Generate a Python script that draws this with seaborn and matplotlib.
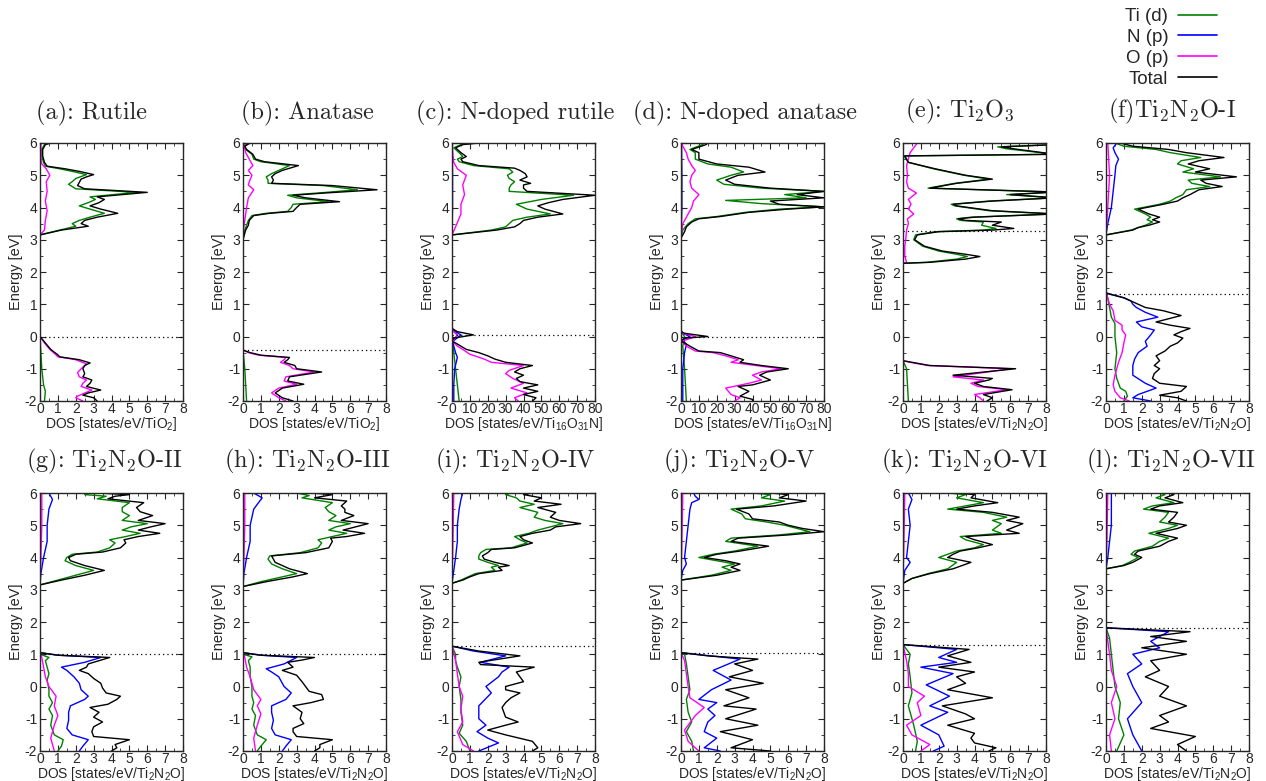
import matplotlib
matplotlib.use("Agg")
import pandas as pd
import matplotlib.pyplot as plt
import seaborn as sns
from matplotlib.lines import Line2D
from matplotlib.ticker import MultipleLocator

# ---- data: (energy [eV], DOS) pairs ----
# (a) Rutile
A_TI = [(-2, 0.25), (-1.7, 0.3), (-1.5, 0.2), (-1.0, 0.1), (-0.5, 0.05), (0, 0), (3.15, 0), (3.3, 1.1), (3.42, 2.0),
        (3.5, 1.8), (3.6, 2.2), (3.7, 2.8), (3.82, 3.6), (3.95, 2.8), (4.05, 2.2), (4.15, 2.7), (4.25, 3.1), (4.33, 2.8),
        (4.47, 5.4), (4.58, 2.0), (4.72, 1.6), (4.8, 1.8), (4.9, 2.0), (5.02, 2.6), (5.12, 1.8), (5.2, 1.1), (5.28, 0.3),
        (5.4, 0.2), (5.6, 0.1), (5.8, 0.1), (5.95, 0.25), (6, 0.5)]
A_O = [(-2, 2.4), (-1.9, 2.0), (-1.85, 2.1), (-1.66, 2.9), (-1.55, 2.3), (-1.45, 2.4), (-1.35, 2.6), (-1.25, 2.2),
       (-1.12, 2.1), (-1.0, 2.3), (-0.85, 2.6), (-0.72, 2.0), (-0.68, 1.6), (-0.63, 1.0), (-0.57, 0.9), (-0.4, 0.55),
       (-0.2, 0.25), (0, 0), (3.15, 0), (3.3, 0.25), (3.6, 0.3), (3.9, 0.4), (4.2, 0.3), (4.5, 0.4), (4.8, 0.35),
       (5.0, 0.55), (5.2, 0.35), (5.35, 0.1), (5.5, 0.05), (6, 0.05)]
A_TOT = [(-2, 3.2), (-1.9, 3.0), (-1.82, 2.4), (-1.75, 2.7), (-1.66, 3.4), (-1.55, 2.6), (-1.45, 2.8), (-1.35, 2.9),
         (-1.25, 2.4), (-1.15, 2.5), (-1.0, 2.4), (-0.9, 2.5), (-0.82, 2.8), (-0.72, 2.2), (-0.68, 1.7), (-0.63, 1.1),
         (-0.57, 1.0), (-0.4, 0.6), (-0.2, 0.3), (0, 0), (3.15, 0), (3.3, 1.2), (3.42, 2.7), (3.5, 2.3), (3.6, 2.5),
         (3.7, 3.2), (3.82, 4.35), (3.95, 3.4), (4.05, 2.8), (4.15, 3.3), (4.25, 3.6), (4.33, 3.2), (4.47, 6.0),
         (4.58, 2.5), (4.68, 2.1), (4.78, 2.2), (4.88, 2.3), (4.95, 2.6), (5.02, 3.0), (5.12, 2.2), (5.2, 1.4),
         (5.28, 0.4), (5.4, 0.25), (5.6, 0.15), (5.8, 0.15), (5.95, 0.3), (6, 0.6)]

# (b) Anatase
B_TI = [(-2, 0.2), (-1.5, 0.15), (-1.0, 0.1), (-0.42, 0), (3.0, 0), (3.3, 0.1), (3.6, 0.3), (3.75, 0.5), (3.82, 1.3),
        (3.88, 2.5), (4.0, 2.7), (4.1, 2.8), (4.18, 4.8), (4.3, 3.0), (4.38, 2.5), (4.45, 4.2), (4.55, 6.4), (4.68, 4.5),
        (4.75, 1.4), (4.85, 1.4), (4.95, 1.3), (5.05, 1.6), (5.15, 2.0), (5.3, 2.6), (5.42, 1.0), (5.5, 0.6),
        (5.65, 0.5), (5.8, 0.15), (5.9, 0.05), (6, 0.3)]
B_O = [(-2, 2.4), (-1.9, 2.0), (-1.75, 1.6), (-1.6, 2.0), (-1.48, 3.0), (-1.38, 2.3), (-1.25, 2.4), (-1.1, 4.0),
       (-1.0, 2.8), (-0.9, 2.6), (-0.8, 2.1), (-0.72, 2.3), (-0.65, 2.4), (-0.58, 0.9), (-0.5, 0.3), (-0.42, 0),
       (3.1, 0), (3.4, 0.05), (3.6, 0.1), (3.8, 0.15), (4.0, 0.2), (4.3, 0.3), (4.55, 0.6), (4.7, 0.3), (4.8, 0.35),
       (5.0, 0.5), (5.15, 0.3), (5.3, 0.55), (5.5, 0.35), (5.7, 0.15), (5.85, 0.1), (6, 0.05)]
B_TOT = [(-2, 2.8), (-1.9, 2.2), (-1.75, 1.8), (-1.6, 2.2), (-1.48, 3.4), (-1.38, 2.5), (-1.25, 2.6), (-1.1, 4.4),
         (-1.0, 3.0), (-0.9, 2.9), (-0.8, 2.3), (-0.72, 2.5), (-0.65, 2.6), (-0.58, 1.0), (-0.5, 0.4), (-0.42, 0),
         (3.0, 0), (3.3, 0.15), (3.45, 0.3), (3.6, 0.35), (3.75, 0.6), (3.82, 1.5), (3.88, 2.8), (4.0, 3.0), (4.1, 3.2),
         (4.18, 5.4), (4.3, 3.5), (4.38, 2.8), (4.45, 4.6), (4.55, 7.5), (4.68, 5.0), (4.75, 1.6), (4.85, 1.7),
         (4.95, 1.6), (5.05, 1.8), (5.15, 2.2), (5.3, 3.1), (5.42, 1.2), (5.5, 0.7), (5.65, 0.55), (5.8, 0.2),
         (5.9, 0.1), (6, 0.4)]

# (c) N-doped rutile
C_TI = [(-2, 4), (-1.5, 3), (-1.0, 2), (-0.5, 1), (-0.15, 0.5), (0.05, 3), (0.2, 0), (3.15, 0), (3.3, 22), (3.4, 30),
        (3.5, 32), (3.6, 34), (3.7, 42), (3.8, 55), (3.95, 42), (4.1, 36), (4.25, 50), (4.38, 68), (4.5, 32), (4.6, 32),
        (4.7, 33), (4.8, 35), (4.9, 32), (5.0, 31), (5.1, 34), (5.2, 32), (5.3, 12), (5.42, 4), (5.5, 3), (5.58, 6),
        (5.7, 4), (5.85, 1), (5.95, 5), (6, 12)]
C_N = [(-2, 1), (-1.5, 1), (-1.0, 1.5), (-0.65, 3), (-0.5, 2), (-0.3, 1), (-0.15, 0.5), (0.05, 5), (0.2, 0.5), (0.3, 0),
       (3.15, 0), (4, 0.3), (5, 0.3), (6, 0.2)]
C_O = [(-2, 37), (-1.9, 35), (-1.75, 42), (-1.6, 33), (-1.45, 40), (-1.3, 34), (-1.15, 30), (-1.05, 32), (-0.9, 40),
       (-0.8, 22), (-0.7, 18), (-0.55, 10), (-0.4, 6), (-0.3, 3), (-0.15, 0.5), (0.05, 3), (0.2, 0), (3.15, 0),
       (3.4, 2), (3.8, 5), (4.1, 5), (4.4, 7), (4.7, 6), (5.0, 8), (5.2, 3), (5.4, 1), (5.6, 0.5), (6, 0)]
C_TOT = [(-2, 45), (-1.9, 47), (-1.8, 40), (-1.7, 48), (-1.6, 40), (-1.5, 48), (-1.4, 38), (-1.3, 36), (-1.2, 40),
         (-1.1, 35), (-1.0, 38), (-0.9, 45), (-0.8, 30), (-0.7, 24), (-0.6, 20), (-0.5, 15), (-0.4, 8), (-0.3, 5),
         (-0.2, 2), (-0.15, 0), (-0.05, 1), (0.05, 12), (0.15, 3), (0.25, 0), (3.15, 0), (3.3, 25), (3.4, 35),
         (3.5, 38), (3.6, 40), (3.7, 48), (3.8, 62), (3.95, 52), (4.05, 48), (4.15, 54), (4.25, 62), (4.38, 80),
         (4.5, 42), (4.6, 40), (4.7, 40), (4.75, 44), (4.85, 38), (4.95, 42), (5.05, 41), (5.15, 38), (5.22, 35),
         (5.3, 15), (5.42, 6), (5.5, 5), (5.58, 8), (5.7, 5), (5.85, 2), (5.95, 6), (6, 15)]

# (d) N-doped anatase
D_TI = [(-2, 3), (-1.0, 2), (-0.3, 1), (0, 2), (0.15, 0), (3.05, 0), (3.3, 1), (3.5, 4), (3.65, 8), (3.72, 20),
        (3.85, 36), (3.95, 55), (4.02, 80), (4.12, 45), (4.22, 25), (4.3, 70), (4.4, 58), (4.5, 80), (4.6, 45),
        (4.72, 24), (4.85, 20), (5.0, 28), (5.1, 35), (5.25, 28), (5.35, 15), (5.5, 8), (5.7, 8), (5.8, 5), (5.95, 12),
        (6, 13)]
D_N = [(-2, 1), (-1.0, 1), (-0.5, 2), (-0.25, 3), (-0.1, 1), (0.0, 5), (0.1, 1), (0.2, 0), (3.05, 0), (4, 0.5),
       (5, 0.5), (6, 0.3)]
D_O = [(-2, 30), (-1.9, 33), (-1.8, 28), (-1.6, 25), (-1.45, 38), (-1.35, 45), (-1.2, 40), (-1.1, 45), (-1.0, 56),
       (-0.9, 42), (-0.8, 28), (-0.72, 32), (-0.6, 25), (-0.5, 18), (-0.45, 8), (-0.3, 3), (-0.15, 0.5), (0.0, 8),
       (0.1, 1), (0.15, 0), (3.05, 0), (3.5, 1), (3.8, 4), (4.0, 6), (4.2, 7), (4.4, 10), (4.6, 6), (4.8, 5), (5.0, 6),
       (5.15, 8), (5.3, 6), (5.5, 4), (5.7, 3), (5.9, 1), (6, 0.5)]
D_TOT = [(-2, 40), (-1.95, 40), (-1.85, 33), (-1.7, 38), (-1.55, 32), (-1.5, 40), (-1.35, 50), (-1.2, 44), (-1.1, 48),
         (-1.0, 60), (-0.9, 45), (-0.8, 33), (-0.72, 35), (-0.6, 28), (-0.5, 22), (-0.45, 10), (-0.3, 5), (-0.2, 2),
         (-0.15, 0), (-0.05, 2), (0.0, 15), (0.1, 2), (0.15, 0), (3.05, 0), (3.25, 2), (3.4, 3), (3.55, 6), (3.65, 10),
         (3.72, 22), (3.85, 38), (3.95, 60), (4.02, 80), (4.1, 55), (4.2, 50), (4.3, 80), (4.4, 65), (4.5, 80),
         (4.6, 50), (4.72, 30), (4.85, 25), (5.0, 32), (5.1, 47), (5.25, 38), (5.35, 20), (5.5, 10), (5.7, 10),
         (5.8, 6), (5.95, 14), (6, 15)]

# (e) Ti2O3
E_TI = [(-2, 0.3), (-1.5, 0.25), (-1.0, 0.2), (-0.75, 0), (2.27, 0), (2.3, 1.3), (2.4, 3.0), (2.48, 3.6), (2.55, 3.0),
        (2.65, 2.0), (2.8, 1.1), (3.0, 0.6), (3.15, 0.7), (3.25, 1.8), (3.3, 4.5), (3.35, 5.2), (3.45, 4.4),
        (3.55, 4.5), (3.6, 3.2), (3.65, 3.0), (3.7, 3.8), (3.8, 8.5), (3.9, 4.8), (4.05, 2.9), (4.1, 2.7), (4.2, 4.8),
        (4.3, 8.5), (4.4, 5.8), (4.48, 8.5), (4.6, 1.4), (4.75, 2.9), (4.88, 4.8), (5.0, 3.4), (5.2, 1.7), (5.4, 0.3),
        (5.6, 0.05), (5.65, 8.5), (5.82, 5.8), (5.88, 5.3), (5.95, 8.5), (6, 8.5)]
E_O = [(-2, 4.5), (-1.9, 4.3), (-1.8, 4.0), (-1.65, 5.8), (-1.55, 4.2), (-1.45, 3.8), (-1.35, 4.5), (-1.25, 2.8),
       (-1.0, 6.0), (-0.9, 1.4), (-0.8, 0.4), (-0.75, 0), (2.27, 0), (2.3, 0.2), (2.5, 0.1), (2.8, 0.1), (3.0, 0.15),
       (3.3, 0.2), (3.5, 0.3), (3.65, 0.25), (3.8, 0.6), (3.95, 0.3), (4.1, 0.45), (4.25, 0.3), (4.45, 0.75),
       (4.6, 0.3), (4.8, 0.2), (5.0, 0.25), (5.3, 0.2), (5.5, 0.3), (5.7, 0.4), (5.85, 0.6), (6, 0.8)]
E_TOT = [(-2, 4.7), (-1.9, 5.0), (-1.8, 4.5), (-1.65, 6.1), (-1.55, 4.5), (-1.45, 4.0), (-1.35, 4.8), (-1.3, 5.0),
         (-1.2, 2.8), (-1.0, 6.3), (-0.9, 1.5), (-0.8, 0.5), (-0.75, 0), (2.27, 0), (2.3, 1.5), (2.4, 3.5),
         (2.48, 4.3), (2.55, 3.5), (2.65, 2.2), (2.8, 1.2), (3.0, 0.65), (3.15, 0.8), (3.25, 2.0), (3.3, 5.0),
         (3.35, 6.2), (3.45, 5.0), (3.55, 5.5), (3.6, 3.5), (3.65, 3.1), (3.7, 4.0), (3.8, 8.5), (3.9, 5.0),
         (4.05, 3.0), (4.1, 2.8), (4.2, 5.0), (4.3, 8.5), (4.4, 6.0), (4.48, 8.5), (4.6, 1.5), (4.75, 3.0),
         (4.88, 5.0), (5.0, 3.5), (5.2, 1.8), (5.4, 0.3), (5.6, 0.1), (5.65, 8.5), (5.82, 6.2), (5.88, 5.5),
         (5.95, 8.5), (6, 8.5)]

# (f) Ti2N2O-I
F_TI = [(-2, 1.0), (-1.85, 1.2), (-1.7, 1.1), (-1.6, 0.8), (-1.3, 0.6), (-1.0, 0.5), (-0.5, 0.6), (0, 0.5), (0.4, 0.5),
        (0.6, 0.3), (0.9, 0.2), (1.2, 0.1), (1.35, 0), (3.15, 0), (3.3, 1.4), (3.45, 2.2), (3.55, 2.6), (3.62, 2.3),
        (3.7, 2.5), (3.8, 2.2), (3.95, 1.6), (4.1, 3.0), (4.2, 3.6), (4.3, 3.9), (4.4, 4.3), (4.55, 4.5), (4.65, 5.8),
        (4.75, 4.8), (4.85, 4.6), (4.95, 6.4), (5.1, 4.3), (5.2, 4.9), (5.35, 4.0), (5.45, 4.2), (5.55, 5.3),
        (5.7, 3.6), (5.8, 2.8), (5.9, 1.0), (6, 0.5)]
F_N = [(-2, 2.5), (-1.9, 1.5), (-1.8, 1.8), (-1.6, 2.8), (-1.45, 2.2), (-1.2, 1.5), (-0.9, 1.5), (-0.7, 1.6),
       (-0.5, 1.8), (-0.3, 2.3), (-0.15, 2.2), (0.05, 2.5), (0.2, 2.7), (0.3, 2.0), (0.45, 1.7), (0.6, 2.9),
       (0.75, 2.2), (0.9, 1.7), (1.0, 1.5), (1.1, 1.4), (1.2, 1.0), (1.35, 0), (3.15, 0), (3.5, 0.1), (4.0, 0.3),
       (4.5, 0.4), (5.0, 0.5), (5.3, 0.55), (5.5, 0.7), (5.7, 0.5), (5.85, 0.4), (6, 0.6)]
F_O = [(-2, 1.3), (-1.9, 0.8), (-1.7, 0.5), (-1.5, 0.4), (-1.2, 0.5), (-0.8, 0.7), (-0.5, 0.9), (-0.2, 1.0),
       (0.05, 1.1), (0.2, 0.9), (0.35, 0.9), (0.5, 0.5), (0.8, 0.4), (1.0, 0.2), (1.35, 0), (3.15, 0), (4.0, 0.1),
       (5.0, 0.2), (5.5, 0.15), (6, 0.1)]
F_TOT = [(-2, 4.5), (-1.9, 4.0), (-1.82, 3.0), (-1.7, 4.2), (-1.55, 4.5), (-1.45, 3.0), (-1.3, 2.6), (-1.15, 2.7),
         (-1.0, 3.0), (-0.9, 2.7), (-0.75, 3.0), (-0.6, 2.8), (-0.45, 3.3), (-0.3, 3.6), (-0.2, 4.0), (-0.05, 4.3),
         (0.05, 3.8), (0.15, 4.2), (0.25, 4.7), (0.35, 3.6), (0.45, 2.8), (0.55, 3.5), (0.65, 4.2), (0.8, 3.2),
         (0.9, 2.2), (1.0, 1.8), (1.1, 1.4), (1.2, 1.0), (1.3, 0.3), (1.35, 0), (3.15, 0), (3.3, 1.5), (3.38, 1.8),
         (3.45, 2.4), (3.55, 3.0), (3.62, 2.6), (3.7, 3.0), (3.8, 2.4), (3.95, 1.8), (4.1, 3.2), (4.2, 4.0),
         (4.3, 4.3), (4.4, 4.7), (4.55, 5.2), (4.65, 6.5), (4.75, 5.6), (4.85, 5.3), (4.95, 7.3), (5.1, 5.0),
         (5.2, 5.8), (5.35, 4.6), (5.45, 5.2), (5.55, 6.6), (5.7, 4.5), (5.8, 3.5), (5.9, 1.5), (6, 0.8)]

# (g) Ti2N2O-II
G_TI = [(-2, 1.0), (-1.85, 1.2), (-1.65, 1.3), (-1.5, 0.8), (-1.2, 0.6), (-0.9, 0.7), (-0.7, 0.5), (-0.5, 0.7),
        (-0.3, 0.5), (-0.1, 0.5), (0.2, 0.4), (0.4, 0.5), (0.6, 0.4), (0.8, 0.3), (0.9, 0.5), (1.0, 0), (3.15, 0),
        (3.3, 1.0), (3.45, 2.0), (3.6, 3.0), (3.75, 2.0), (3.9, 1.4), (4.0, 1.5), (4.1, 1.8), (4.17, 3.2), (4.3, 3.9),
        (4.45, 4.2), (4.55, 3.9), (4.65, 4.8), (4.75, 5.6), (4.85, 4.6), (4.95, 5.1), (5.05, 6.0), (5.15, 4.6),
        (5.3, 5.0), (5.42, 4.6), (5.55, 4.6), (5.7, 5.0), (5.82, 3.2), (5.9, 3.7), (5.95, 2.5), (6, 2.8)]
G_N = [(-2, 2.2), (-1.85, 2.4), (-1.65, 2.7), (-1.5, 1.8), (-1.3, 1.5), (-1.05, 1.6), (-0.8, 1.6), (-0.6, 1.7),
       (-0.4, 2.5), (-0.3, 2.7), (-0.1, 2.3), (0.1, 2.2), (0.3, 1.9), (0.5, 1.5), (0.6, 1.2), (0.75, 2.5), (0.9, 3.4),
       (0.97, 1.0), (1.05, 0), (3.15, 0), (3.5, 0.05), (4.0, 0.2), (4.5, 0.4), (5.0, 0.4), (5.5, 0.5), (5.8, 0.7),
       (6, 0.5)]
G_O = [(-2, 0.8), (-1.6, 0.6), (-1.2, 0.8), (-0.9, 1.0), (-0.6, 0.8), (-0.3, 0.9), (0, 0.5), (0.3, 0.3), (0.6, 0.2),
       (0.9, 0.1), (1.05, 0), (3.15, 0), (4.0, 0.05), (5.0, 0.1), (6, 0.1)]
G_TOT = [(-2, 4.0), (-1.9, 4.3), (-1.8, 4.2), (-1.65, 5.0), (-1.55, 3.0), (-1.4, 2.9), (-1.25, 3.0), (-1.1, 3.5),
         (-0.95, 3.0), (-0.8, 3.3), (-0.65, 2.8), (-0.55, 3.8), (-0.4, 4.3), (-0.3, 4.5), (-0.2, 3.7), (-0.05, 3.5),
         (0.1, 3.4), (0.25, 3.0), (0.4, 2.7), (0.5, 2.2), (0.6, 2.6), (0.7, 2.7), (0.8, 3.3), (0.9, 3.9), (0.97, 1.0),
         (1.05, 0), (3.15, 0), (3.3, 1.2), (3.45, 2.5), (3.6, 3.6), (3.75, 2.5), (3.9, 1.7), (4.0, 1.6), (4.1, 2.0),
         (4.17, 3.5), (4.3, 4.5), (4.45, 4.8), (4.55, 4.7), (4.65, 5.5), (4.75, 6.7), (4.85, 5.5), (4.95, 6.2),
         (5.05, 7.0), (5.15, 5.5), (5.3, 6.3), (5.42, 5.6), (5.55, 5.4), (5.7, 5.8), (5.82, 3.8), (5.9, 4.2),
         (5.95, 5.0), (6, 3.2)]

# (h) Ti2N2O-III
H_TI = [(-2, 0.8), (-1.85, 1.0), (-1.65, 1.3), (-1.5, 0.8), (-1.2, 0.6), (-0.9, 0.7), (-0.7, 0.5), (-0.5, 0.6),
        (-0.3, 0.5), (0.0, 0.5), (0.3, 0.4), (0.6, 0.4), (0.8, 0.3), (0.92, 0.5), (1.0, 0), (3.1, 0), (3.25, 1.0),
        (3.4, 2.2), (3.5, 3.0), (3.65, 2.2), (3.8, 1.6), (3.95, 1.4), (4.05, 1.5), (4.15, 3.2), (4.3, 4.2),
        (4.45, 4.4), (4.55, 4.2), (4.65, 5.0), (4.75, 5.8), (4.85, 4.8), (4.95, 5.2), (5.05, 6.0), (5.15, 4.8),
        (5.3, 5.2), (5.42, 4.8), (5.55, 4.6), (5.7, 5.0), (5.85, 3.3), (5.92, 3.7), (6, 3.0)]
H_N = [(-2, 2.2), (-1.85, 2.4), (-1.65, 2.7), (-1.5, 1.8), (-1.3, 1.6), (-1.05, 1.7), (-0.8, 1.6), (-0.6, 1.6),
       (-0.4, 2.4), (-0.2, 2.7), (0.0, 2.3), (0.3, 2.0), (0.45, 1.6), (0.55, 1.3), (0.7, 2.3), (0.9, 3.0), (0.97, 1.0),
       (1.05, 0), (3.1, 0), (3.5, 0.05), (4.0, 0.2), (4.5, 0.4), (5.0, 0.4), (5.5, 0.6), (5.85, 1.07), (6, 0.6)]
H_O = [(-2, 0.7), (-1.6, 0.6), (-1.2, 0.8), (-0.85, 1.0), (-0.6, 0.8), (-0.4, 1.0), (-0.1, 0.6), (0.3, 0.4),
       (0.6, 0.2), (0.9, 0.1), (1.05, 0), (3.1, 0), (4.0, 0.05), (5.0, 0.1), (6, 0.1)]
H_TOT = [(-2, 4.0), (-1.9, 4.3), (-1.8, 4.3), (-1.65, 5.0), (-1.55, 3.0), (-1.4, 2.8), (-1.3, 2.8), (-1.15, 3.4),
         (-1.0, 3.2), (-0.8, 3.3), (-0.6, 2.8), (-0.5, 3.8), (-0.4, 4.5), (-0.25, 4.4), (-0.15, 3.7), (0.0, 3.5),
         (0.15, 3.3), (0.35, 3.0), (0.5, 2.2), (0.6, 2.8), (0.75, 2.5), (0.82, 3.3), (0.9, 4.0), (0.97, 1.0),
         (1.05, 0), (3.1, 0), (3.25, 1.3), (3.4, 2.8), (3.5, 3.6), (3.65, 2.6), (3.85, 1.8), (4.05, 1.6), (4.15, 3.5),
         (4.3, 4.8), (4.5, 5.0), (4.6, 4.9), (4.65, 5.8), (4.75, 6.8), (4.85, 5.6), (4.95, 6.3), (5.05, 7.0),
         (5.15, 5.5), (5.3, 6.2), (5.4, 5.7), (5.5, 5.7), (5.6, 5.5), (5.75, 5.8), (5.85, 4.0), (5.95, 5.0),
         (6, 3.8)]

# (i) Ti2N2O-IV
I_TI = [(-2, 1.0), (-1.7, 0.8), (-1.45, 0.4), (-1.2, 0.6), (-0.8, 0.5), (-0.4, 0.5), (0, 0.4), (0.3, 0.5), (0.6, 0.3),
        (0.8, 0.2), (1.0, 0.2), (1.25, 0), (3.2, 0), (3.3, 0.5), (3.4, 0.9), (3.5, 1.3), (3.6, 2.4), (3.7, 2.2),
        (3.75, 2.6), (3.85, 2.0), (3.95, 1.5), (4.05, 1.5), (4.15, 1.6), (4.25, 1.9), (4.3, 3.3), (4.45, 4.2),
        (4.55, 3.8), (4.65, 3.5), (4.75, 4.3), (4.85, 4.8), (4.95, 5.5), (5.05, 6.2), (5.15, 5.2), (5.25, 4.6),
        (5.4, 4.8), (5.55, 3.8), (5.65, 4.6), (5.75, 3.8), (5.85, 3.6), (5.95, 3.0), (6, 3.3)]
I_N = [(-2, 1.5), (-1.75, 2.6), (-1.6, 2.0), (-1.4, 1.4), (-1.2, 1.9), (-1.0, 1.5), (-0.6, 1.5), (-0.2, 2.2),
       (0.0, 1.9), (0.3, 2.6), (0.45, 2.8), (0.6, 3.2), (0.75, 1.6), (0.95, 3.0), (1.1, 1.2), (1.25, 0), (3.2, 0),
       (3.6, 0.1), (4.0, 0.2), (4.5, 0.3), (5.0, 0.3), (5.5, 0.4), (5.8, 0.5), (6, 0.6)]
I_O = [(-2, 1.2), (-1.8, 0.6), (-1.4, 0.3), (-1.1, 0.6), (-0.7, 0.5), (-0.3, 0.6), (0, 0.4), (0.4, 0.3), (0.8, 0.2),
       (1.25, 0), (3.2, 0), (4.5, 0.05), (6, 0.1)]
I_TOT = [(-2, 4.5), (-1.9, 4.8), (-1.7, 4.5), (-1.5, 3.0), (-1.35, 2.0), (-1.2, 3.0), (-1.1, 3.7), (-0.95, 3.0),
         (-0.8, 2.9), (-0.65, 2.8), (-0.5, 3.0), (-0.35, 3.3), (-0.2, 3.8), (-0.1, 3.0), (0, 3.0), (0.15, 4.0),
         (0.3, 3.8), (0.45, 3.6), (0.6, 4.6), (0.68, 1.6), (0.75, 1.5), (0.95, 3.8), (1.1, 1.5), (1.25, 0), (3.2, 0),
         (3.3, 0.6), (3.4, 1.0), (3.5, 1.5), (3.6, 2.8), (3.7, 2.6), (3.75, 3.2), (3.85, 2.4), (3.95, 1.8),
         (4.05, 1.7), (4.15, 2.0), (4.25, 2.2), (4.3, 3.5), (4.45, 4.5), (4.55, 4.0), (4.65, 3.8), (4.75, 4.5),
         (4.85, 5.5), (4.95, 5.8), (5.05, 7.2), (5.15, 6.0), (5.25, 5.5), (5.4, 5.8), (5.55, 4.8), (5.65, 6.1),
         (5.75, 4.6), (5.85, 5.0), (5.95, 4.0), (6, 4.5)]

# (j) Ti2N2O-V
J_TI = [(-2, 0.7), (-1.7, 0.6), (-1.4, 0.3), (-1.1, 0.6), (-0.8, 0.4), (-0.4, 0.3), (-0.1, 0.5), (0.3, 0.4),
        (0.7, 0.3), (1.0, 0.2), (1.05, 0), (3.3, 0), (3.45, 1.7), (3.6, 2.8), (3.7, 2.3), (3.8, 3.0), (3.9, 2.0),
        (4.0, 1.0), (4.1, 1.8), (4.2, 3.0), (4.35, 4.3), (4.5, 2.5), (4.6, 2.8), (4.7, 5.5), (4.8, 7.2), (4.9, 6.5),
        (5.0, 5.8), (5.1, 4.8), (5.2, 3.6), (5.35, 3.4), (5.5, 2.8), (5.6, 4.5), (5.75, 5.8), (5.85, 4.5),
        (5.95, 5.0), (6, 4.0)]
J_N = [(-2, 2.2), (-1.9, 1.3), (-1.6, 2.0), (-1.4, 1.3), (-1.1, 1.5), (-0.9, 1.9), (-0.7, 1.5), (-0.5, 2.0),
       (-0.4, 1.0), (-0.1, 1.7), (0.2, 2.8), (0.5, 1.8), (0.85, 3.3), (1.05, 0), (3.3, 0), (3.6, 0.1), (3.8, 0.3),
       (4.0, 0.2), (4.5, 0.3), (5.0, 0.4), (5.5, 0.5), (5.7, 0.6), (5.8, 1.0), (5.9, 0.8), (6, 0.7)]
J_O = [(-2, 1.0), (-1.7, 0.4), (-1.35, 0.2), (-0.9, 0.8), (-0.65, 1.3), (-0.35, 0.5), (0, 0.4), (0.4, 0.3),
       (0.8, 0.2), (1.05, 0), (3.3, 0), (4.5, 0.05), (6, 0.1)]
J_TOT = [(-2, 5.0), (-1.9, 2.8), (-1.65, 4.0), (-1.4, 2.2), (-1.2, 4.3), (-1.0, 2.5), (-0.7, 4.2), (-0.6, 2.4),
         (-0.35, 3.8), (-0.1, 2.5), (0.1, 4.6), (0.3, 2.7), (0.5, 4.0), (0.7, 3.0), (0.85, 4.3), (0.95, 1.5),
         (1.05, 0), (3.3, 0), (3.45, 2.0), (3.6, 3.3), (3.7, 2.8), (3.8, 3.3), (3.9, 2.5), (4.0, 1.3), (4.1, 2.0),
         (4.2, 3.3), (4.35, 4.9), (4.5, 2.8), (4.6, 3.2), (4.7, 6.0), (4.8, 8.0), (4.9, 6.8), (5.0, 6.0), (5.1, 5.5),
         (5.2, 4.0), (5.35, 3.8), (5.5, 3.1), (5.6, 5.2), (5.75, 7.0), (5.85, 5.5), (5.95, 6.0), (6, 5.0)]

# (k) Ti2N2O-VI
K_TI = [(-2, 0.7), (-1.7, 0.8), (-1.2, 0.6), (-0.6, 0.3), (-0.2, 0.5), (0.3, 0.4), (0.7, 0.3), (1.0, 0.4), (1.3, 0),
        (3.2, 0), (3.35, 0.5), (3.5, 1.4), (3.65, 2.5), (3.85, 3.0), (4.0, 2.0), (4.1, 2.5), (4.2, 3.0), (4.3, 4.0),
        (4.4, 4.5), (4.55, 3.5), (4.65, 3.2), (4.75, 5.5), (4.85, 5.0), (5.05, 5.5), (5.15, 5.0), (5.25, 5.8),
        (5.4, 4.5), (5.5, 2.5), (5.6, 3.5), (5.7, 4.5), (5.85, 3.0), (5.95, 3.5), (6, 2.5)]
K_N = [(-2, 1.7), (-1.85, 2.3), (-1.5, 2.0), (-1.2, 1.0), (-0.8, 2.5), (-0.6, 1.5), (-0.3, 2.6), (0.05, 1.3),
       (0.4, 2.8), (0.6, 1.0), (0.75, 3.0), (0.9, 2.0), (1.15, 3.0), (1.3, 0), (3.2, 0), (3.6, 0.1), (3.85, 0.4),
       (4.0, 0.2), (4.5, 0.3), (5.0, 0.4), (5.5, 0.3), (5.8, 0.5), (6, 0.3)]
K_O = [(-2, 1.0), (-1.8, 1.5), (-1.5, 0.5), (-1.2, 0.2), (-0.9, 1.0), (-0.5, 0.8), (-0.3, 1.2), (0, 0.3), (0.4, 0.3),
       (0.8, 0.2), (1.3, 0), (3.2, 0), (4.5, 0.05), (6, 0.1)]
K_TOT = [(-2, 4.8), (-1.9, 5.2), (-1.75, 4.0), (-1.6, 3.8), (-1.45, 4.0), (-1.2, 2.5), (-1.0, 4.0), (-0.85, 3.5),
         (-0.6, 2.2), (-0.35, 5.0), (-0.1, 2.5), (0.1, 3.5), (0.3, 3.0), (0.45, 4.0), (0.6, 2.0), (0.75, 3.8),
         (0.95, 2.5), (1.15, 3.7), (1.3, 0), (3.2, 0), (3.35, 0.5), (3.5, 1.5), (3.65, 2.8), (3.85, 3.8), (4.0, 2.5),
         (4.1, 2.8), (4.2, 3.2), (4.3, 4.2), (4.4, 5.0), (4.55, 4.0), (4.65, 3.5), (4.75, 6.5), (4.85, 5.8),
         (5.05, 6.7), (5.15, 5.8), (5.25, 6.5), (5.4, 5.0), (5.5, 3.0), (5.6, 4.0), (5.7, 5.3), (5.85, 3.8),
         (5.95, 4.0), (6, 3.0)]

# (l) Ti2N2O-VII
L_TI = [(-2, 0.6), (-1.5, 1.0), (-1.0, 0.7), (-0.5, 0.8), (0, 0.5), (0.5, 0.4), (1.0, 0.3), (1.5, 0.2), (1.82, 0),
        (3.65, 0), (3.75, 0.9), (3.85, 1.3), (4.0, 1.8), (4.1, 1.4), (4.2, 1.6), (4.35, 2.6), (4.5, 3.0), (4.6, 3.5),
        (4.75, 2.4), (4.9, 3.5), (5.0, 4.0), (5.1, 3.0), (5.25, 3.3), (5.4, 3.5), (5.5, 2.1), (5.6, 2.6), (5.7, 3.8),
        (5.85, 2.8), (5.95, 3.3), (6, 3.0)]
L_N = [(-2, 2.0), (-1.5, 1.5), (-1.0, 1.2), (-0.5, 2.0), (0, 1.5), (0.4, 1.2), (0.7, 2.0), (1.0, 1.5), (1.2, 3.0),
       (1.4, 2.5), (1.7, 3.5), (1.82, 0), (3.65, 0), (4.0, 0.1), (4.5, 0.2), (5.0, 0.3), (5.5, 0.3), (6, 0.3)]
L_O = [(-2, 0.3), (-1.5, 0.2), (-1.0, 0.5), (-0.5, 0.3), (0, 0.6), (0.5, 0.3), (1.0, 0.2), (1.82, 0), (3.65, 0),
       (4.5, 0.05), (6, 0.1)]
L_TOT = [(-2, 4.5), (-1.8, 4.0), (-1.55, 5.0), (-1.3, 2.5), (-1.1, 3.5), (-0.9, 3.0), (-0.6, 4.5), (-0.3, 3.0),
         (0, 3.5), (0.3, 2.2), (0.5, 3.0), (0.8, 2.5), (1.0, 4.5), (1.2, 2.0), (1.4, 4.5), (1.55, 2.5), (1.7, 4.7),
         (1.82, 0), (3.65, 0), (3.75, 1.0), (3.85, 1.5), (4.0, 2.0), (4.1, 1.6), (4.2, 1.8), (4.35, 3.0), (4.5, 3.5),
         (4.6, 4.0), (4.75, 2.8), (4.9, 4.0), (5.0, 4.5), (5.1, 3.5), (5.25, 3.8), (5.4, 4.0), (5.5, 2.5), (5.6, 3.0),
         (5.7, 4.3), (5.85, 3.3), (5.95, 3.8), (6, 3.5)]

TITLES = ["(a): Rutile", "(b): Anatase", "(c): N-doped rutile", "(d): N-doped anatase", "(e): Ti$_2$O$_3$",
          "(f)Ti$_2$N$_2$O-I", "(g): Ti$_2$N$_2$O-II", "(h): Ti$_2$N$_2$O-III", "(i): Ti$_2$N$_2$O-IV",
          "(j): Ti$_2$N$_2$O-V", "(k): Ti$_2$N$_2$O-VI", "(l): Ti$_2$N$_2$O-VII"]
UNITS = ["TiO$_2$", "TiO$_2$", "Ti$_{16}$O$_{31}$N", "Ti$_{16}$O$_{31}$N"] + ["Ti$_2$N$_2$O"] * 8
XMAX = [8, 8, 80, 80, 8, 8, 8, 8, 8, 8, 8, 8]
FERMI = [0.0, -0.42, 0.05, 0.0, 3.27, 1.33, 1.0, 1.0, 1.25, 1.05, 1.3, 1.82]

SERIES = ["Ti (d)", "N (p)", "O (p)", "Total"]
COLORS = {"Ti (d)": "#008000", "N (p)": "#0000ff", "O (p)": "#ff00ff", "Total": "#000000"}

PANEL_DATA = [
    {"Ti (d)": A_TI, "O (p)": A_O, "Total": A_TOT},
    {"Ti (d)": B_TI, "O (p)": B_O, "Total": B_TOT},
    {"Ti (d)": C_TI, "N (p)": C_N, "O (p)": C_O, "Total": C_TOT},
    {"Ti (d)": D_TI, "N (p)": D_N, "O (p)": D_O, "Total": D_TOT},
    {"Ti (d)": E_TI, "O (p)": E_O, "Total": E_TOT},
    {"Ti (d)": F_TI, "N (p)": F_N, "O (p)": F_O, "Total": F_TOT},
    {"Ti (d)": G_TI, "N (p)": G_N, "O (p)": G_O, "Total": G_TOT},
    {"Ti (d)": H_TI, "N (p)": H_N, "O (p)": H_O, "Total": H_TOT},
    {"Ti (d)": I_TI, "N (p)": I_N, "O (p)": I_O, "Total": I_TOT},
    {"Ti (d)": J_TI, "N (p)": J_N, "O (p)": J_O, "Total": J_TOT},
    {"Ti (d)": K_TI, "N (p)": K_N, "O (p)": K_O, "Total": K_TOT},
    {"Ti (d)": L_TI, "N (p)": L_N, "O (p)": L_O, "Total": L_TOT},
]

# ---- styling ----
sns.set_style("ticks")
plt.rcParams["font.family"] = ["Liberation Sans", "DejaVu Sans"]
plt.rcParams["mathtext.fontset"] = "custom"
plt.rcParams["mathtext.rm"] = "Liberation Sans"
plt.rcParams["mathtext.it"] = "Liberation Sans:italic"
plt.rcParams["mathtext.bf"] = "Liberation Sans:bold"
plt.rcParams["axes.unicode_minus"] = False

W, H = 1266, 781
fig = plt.figure(figsize=(W / 100, H / 100), dpi=100)

lefts = [40, 243, 452, 681, 903, 1106]
tops = [143, 493]
ax_w, ax_h = 143, 258
title_x = [0.36, 0.45, 0.44, 0.45, 0.40, 0.46, 0.45, 0.45, 0.44, 0.41, 0.43, 0.45]

for i in range(12):
    row, col = divmod(i, 6)
    left, top = lefts[col], tops[row]
    ax = fig.add_axes([left / W, 1 - (top + ax_h) / H, ax_w / W, ax_h / H])

    for name in SERIES:
        pts = PANEL_DATA[i].get(name)
        if pts is None:
            continue
        df = pd.DataFrame(pts, columns=["energy", "dos"])
        sns.lineplot(data=df, x="dos", y="energy", sort=False, estimator=None, orient="y",
                     color=COLORS[name], lw=1.0, ax=ax, legend=False)

    ax.axhline(FERMI[i], color="black", lw=0.9, ls=(0, (1, 2.5)))

    ax.set_xlim(0, XMAX[i])
    ax.set_ylim(-2, 6)
    ax.xaxis.set_major_locator(MultipleLocator(XMAX[i] / 8))
    ax.xaxis.set_minor_locator(MultipleLocator(XMAX[i] / 16))
    ax.yaxis.set_major_locator(MultipleLocator(1))
    ax.yaxis.set_minor_locator(MultipleLocator(0.5))
    ax.tick_params(which="both", direction="in", top=True, right=True, labelsize=10)
    ax.tick_params(axis="x", pad=1)
    ax.tick_params(axis="y", pad=2)
    ax.tick_params(which="major", length=4, width=0.8)
    ax.tick_params(which="minor", length=2, width=0.6)
    for s in ax.spines.values():
        s.set_linewidth(1.0)

    ax.set_ylabel("Energy [eV]", fontsize=10.5, labelpad=1)
    ax.set_xlabel("DOS [states/eV/" + UNITS[i] + "]", fontsize=10, labelpad=-1)
    ax.text(title_x[i], 1.065, TITLES[i], transform=ax.transAxes, ha="center", va="bottom",
            fontsize=17.5, family="cmr10", math_fontfamily="cm")

handles = [Line2D([0], [0], color=COLORS[n], lw=1.2) for n in SERIES]
fig.legend(handles, SERIES, loc="upper right", bbox_to_anchor=(1217 / W, 1 - 8 / H), frameon=False,
           markerfirst=False, fontsize=13.5, handlelength=2.1, handletextpad=0.5, labelspacing=0.2,
           borderpad=0, borderaxespad=0)

fig.savefig("out.png", dpi=100)
